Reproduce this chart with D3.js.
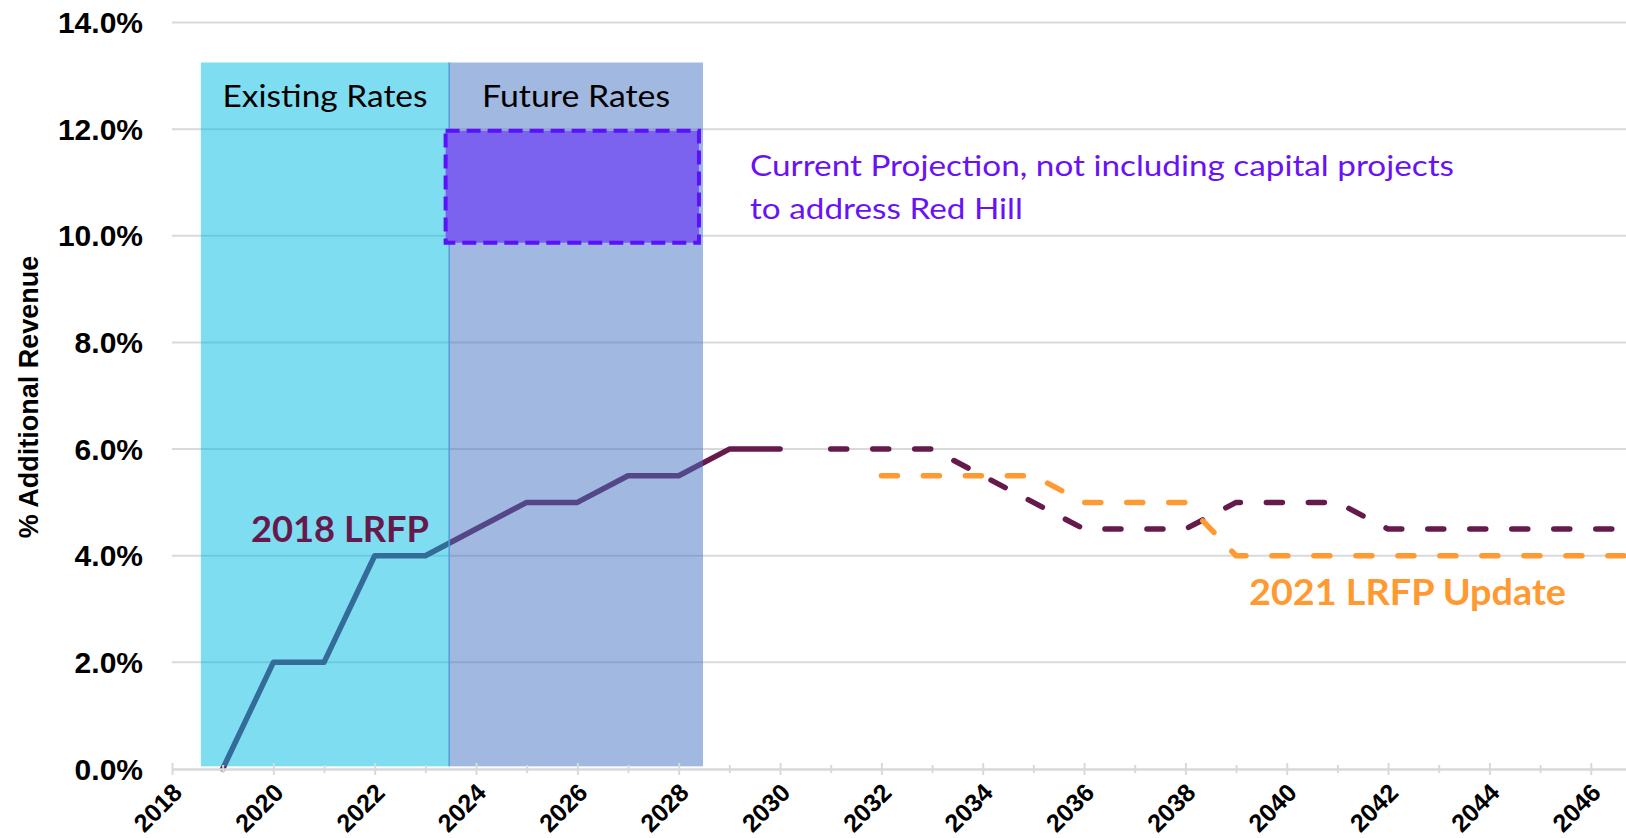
<!DOCTYPE html>
<html lang="en">
<head>
<meta charset="UTF-8">
<script src="https://cdn.jsdelivr.net/npm/d3@7"></script>
<title>% Additional Revenue</title>
<style>
  body { margin: 0; background: #fff; }
  svg { display: block; }
  .ylab, .xlab text, .ytitle { font-family: "Liberation Sans", Arial, sans-serif; font-weight: bold; fill: #000; }
  .note { font-family: Lato, "Open Sans", sans-serif; }
</style>
</head>
<body>
<svg width="1626" height="838"></svg>
<script>
// 2018 LRFP (solid), its later projection (dashed), 2021 update (dashed orange)
var years2018 = [2019, 2020, 2021, 2022, 2023, 2024, 2025, 2026, 2027, 2028, 2029, 2030];
var values2018 = [0, 2, 2, 4, 4, 4.5, 5, 5, 5.5, 5.5, 6, 6];

var yearsProj = [2031, 2032, 2033, 2034, 2035, 2036, 2037, 2038, 2039, 2040, 2041, 2042, 2043, 2044, 2045, 2046, 2047];
var valuesProj = [6, 6, 6, 5.5, 5, 4.5, 4.5, 4.5, 5, 5, 5, 4.5, 4.5, 4.5, 4.5, 4.5, 4.5];

var years2021 = [2032, 2033, 2034, 2035, 2036, 2037, 2038, 2039, 2040, 2041, 2042, 2043, 2044, 2045, 2046, 2047];
var values2021 = [5.5, 5.5, 5.5, 5.5, 5, 5, 5, 4, 4, 4, 4, 4, 4, 4, 4, 4];

// shaded rate periods
var periodNames = ["Existing Rates", "Future Rates"];
var periodStarts = [2018.57, 2023.47];
var periodEnds = [2023.47, 2028.48];
var periodRange = [0.05, 13.25];

// current projection box
var projYears = [2023.4, 2028.4];
var projRange = [9.87, 11.97];

var yTicks = [0, 2, 4, 6, 8, 10, 12, 14];
var xMajor = [2018, 2020, 2022, 2024, 2026, 2028, 2030, 2032, 2034, 2036, 2038, 2040, 2042, 2044, 2046];
var xMinor = [2019, 2021, 2023, 2025, 2027, 2029, 2031, 2033, 2035, 2037, 2039, 2041, 2043, 2045];

var svg = d3.select("svg");
var x = d3.scaleLinear().domain([2018, 2047]).range([172, 172 + 29 * 50.67]);
var y = d3.scaleLinear().domain([0, 14]).range([769, 22.5]);

var maroon = "#661a4c", orange = "#ff9a33";

// gridlines
svg.append("g").selectAll("line")
  .data(yTicks.filter(function(d){ return d > 0; }))
  .enter().append("line")
  .attr("x1", 172).attr("x2", 1626)
  .attr("y1", function(d){ return y(d); }).attr("y2", function(d){ return y(d); })
  .attr("stroke", "#d9d9d9").attr("stroke-width", 2);

// lines
var line = d3.line()
  .x(function(d){ return x(d[0]); })
  .y(function(d){ return y(d[1]); });

svg.append("path")
  .datum(d3.zip(years2018, values2018))
  .attr("d", line)
  .attr("fill", "none").attr("stroke", maroon).attr("stroke-width", 5.5)
  .attr("stroke-linejoin", "round").attr("stroke-linecap", "round");

svg.append("path")
  .datum(d3.zip(yearsProj, valuesProj))
  .attr("d", line)
  .attr("fill", "none").attr("stroke", maroon).attr("stroke-width", 5.5)
  .attr("stroke-dasharray", "16,26").attr("stroke-linecap", "round");

svg.append("path")
  .datum(d3.zip(years2021, values2021))
  .attr("d", line)
  .attr("fill", "none").attr("stroke", orange).attr("stroke-width", 5.5)
  .attr("stroke-dasharray", "16,26").attr("stroke-linecap", "round");

// translucent period overlays
var periodColors = ["#00bbe6", "#4472c4"];
svg.append("g").selectAll("rect")
  .data(periodNames)
  .enter().append("rect")
  .attr("x", function(d, i){ return x(periodStarts[i]); })
  .attr("width", function(d, i){ return x(periodEnds[i]) - x(periodStarts[i]); })
  .attr("y", y(periodRange[1]))
  .attr("height", y(periodRange[0]) - y(periodRange[1]))
  .attr("fill", function(d, i){ return periodColors[i]; })
  .attr("fill-opacity", 0.5);

svg.append("line")
  .attr("x1", x(periodStarts[1])).attr("x2", x(periodStarts[1]))
  .attr("y1", y(periodRange[1])).attr("y2", y(periodRange[0]))
  .attr("stroke", "#4f9fd8").attr("stroke-width", 1.5);

svg.append("g").selectAll("text")
  .data(periodNames)
  .enter().append("text")
  .attr("class", "note")
  .attr("x", function(d, i){ return (x(periodStarts[i]) + x(periodEnds[i])) / 2; })
  .attr("y", 107)
  .attr("text-anchor", "middle")
  .attr("font-size", 30)
  .attr("textLength", function(d, i){ return i === 0 ? 205 : 188; })
  .attr("lengthAdjust", "spacingAndGlyphs")
  .text(function(d){ return d; });

// projection box
svg.append("rect")
  .attr("x", x(projYears[0])).attr("width", x(projYears[1]) - x(projYears[0]))
  .attr("y", y(projRange[1])).attr("height", y(projRange[0]) - y(projRange[1]))
  .attr("fill", "#7b62ef")
  .attr("stroke", "#5b12fb").attr("stroke-width", 4)
  .attr("stroke-dasharray", "14,7");

// annotations
var note1 = svg.append("text").attr("class", "note")
  .attr("x", 750).attr("y", 176).attr("font-size", 29).attr("fill", "#6a12f6")
  .text("Current Projection, not including capital projects");
var note2 = svg.append("text").attr("class", "note")
  .attr("x", 750).attr("y", 219).attr("font-size", 29).attr("fill", "#6a12f6")
  .text("to address Red Hill");
var ratio = 704 / note1.node().getComputedTextLength();
note1.attr("textLength", 704).attr("lengthAdjust", "spacingAndGlyphs");
note2.attr("textLength", note2.node().getComputedTextLength() * ratio).attr("lengthAdjust", "spacingAndGlyphs");

svg.append("text").attr("class", "note")
  .attr("x", 251).attr("y", 542).attr("font-size", 37).attr("font-weight", "bold")
  .attr("fill", maroon).attr("textLength", 178).attr("lengthAdjust", "spacingAndGlyphs")
  .text("2018 LRFP");

svg.append("text").attr("class", "note")
  .attr("x", 1249).attr("y", 605).attr("font-size", 37).attr("font-weight", "bold")
  .attr("fill", orange).attr("textLength", 317).attr("lengthAdjust", "spacingAndGlyphs")
  .text("2021 LRFP Update");

// y axis labels
svg.append("g").selectAll("text")
  .data(yTicks)
  .enter().append("text")
  .attr("class", "ylab")
  .attr("x", 143).attr("y", function(d){ return y(d); })
  .attr("dy", "0.35em").attr("text-anchor", "end")
  .attr("font-size", 30)
  .text(function(d){ return d3.format(".1f")(d) + "%"; });

svg.append("text")
  .attr("class", "ytitle")
  .attr("transform", "translate(38,397) rotate(-90)")
  .attr("text-anchor", "middle")
  .attr("font-size", 27)
  .text("% Additional Revenue");

// x axis
var xAxis = svg.append("g")
  .attr("class", "xlab")
  .attr("transform", "translate(0,769)")
  .call(d3.axisBottom(x).tickValues(xMajor).tickFormat(d3.format("d")).tickSizeOuter(0));

xAxis.select(".domain").attr("stroke", "#d9d9d9").attr("stroke-width", 2.5);
xAxis.selectAll(".tick line").attr("y1", -6).attr("y2", 6).attr("stroke", "#d9d9d9").attr("stroke-width", 2);
xAxis.selectAll(".tick text")
  .attr("x", 0).attr("y", 0).attr("dy", "0.35em")
  .attr("transform", "translate(5,19) rotate(-45)")
  .attr("text-anchor", "end")
  .attr("font-size", 25);

var minor = svg.append("g")
  .attr("transform", "translate(0,769)")
  .call(d3.axisBottom(x).tickValues(xMinor).tickFormat("").tickSizeOuter(0));
minor.select(".domain").remove();
minor.selectAll(".tick line").attr("y1", -4).attr("y2", 4).attr("stroke", "#d9d9d9").attr("stroke-width", 2);
</script>
</body>
</html>
